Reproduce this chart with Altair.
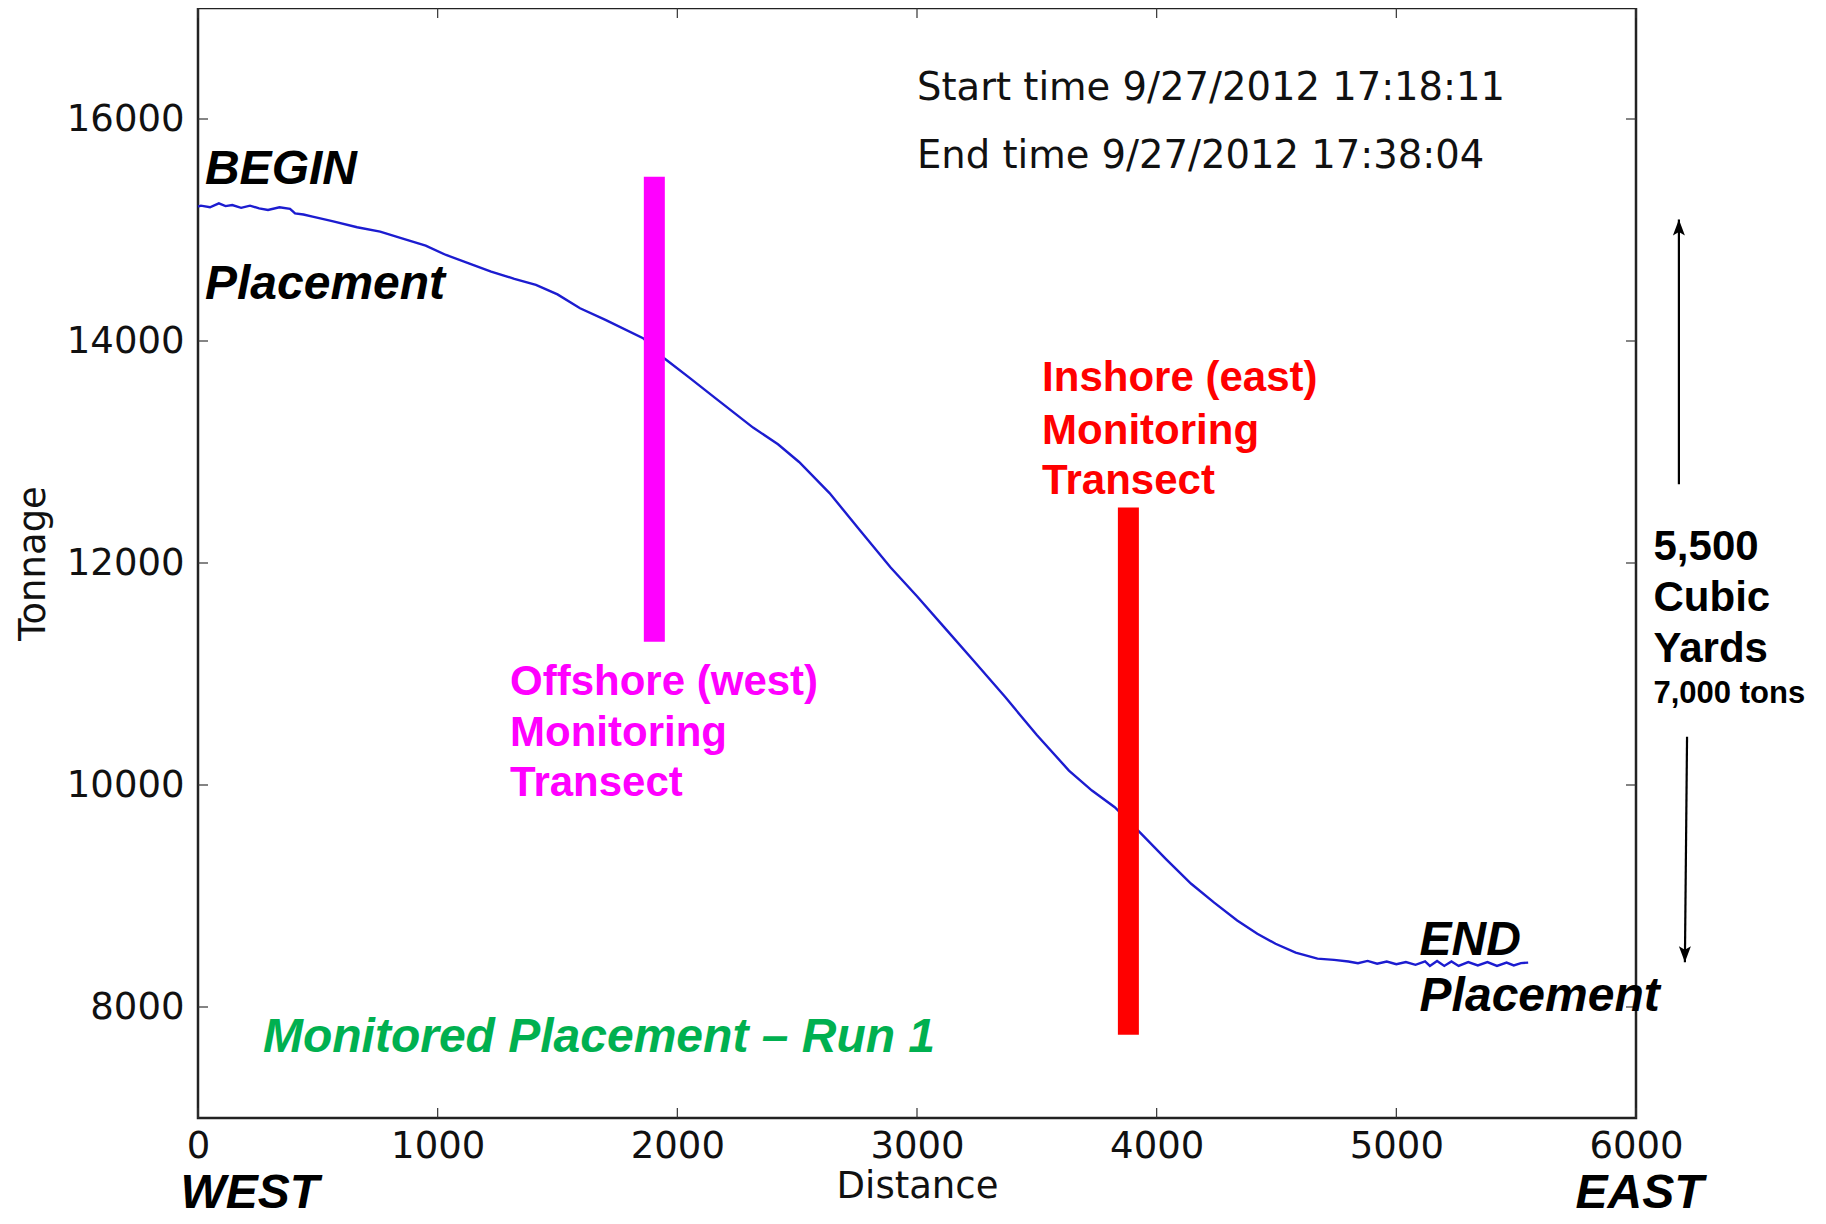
import altair as alt
import pandas as pd

# ---- data ----
distance = [0, 12, 50, 87, 115, 143, 180, 217, 255, 292, 340, 384, 405, 440, 478, 560, 664,
            760, 851, 950, 1035, 1130, 1223, 1320, 1410, 1500, 1594, 1700, 1857, 1948,
            2050, 2156, 2316, 2420, 2508, 2635, 2760, 2890, 3000, 3114, 3240, 3369, 3500, 3634,
            3730, 3825, 3929, 4040, 4144, 4240, 4336, 4420, 4496, 4580, 4671, 4740,
            4800, 4840, 4880, 4920, 4960, 5000, 5040, 5080, 5120, 5140, 5170, 5200, 5230,
            5260, 5300, 5340, 5380, 5420, 5460, 5490, 5520, 5550]
tonnage = [15210, 15219, 15205, 15240, 15215, 15225, 15200, 15219, 15195, 15180, 15205, 15190,
           15150, 15140, 15120, 15080, 15025, 14985, 14925, 14860, 14775, 14700, 14625, 14560,
           14505, 14420, 14295, 14190, 14025, 13840, 13670, 13490, 13220, 13070, 12910, 12630,
           12300, 11960, 11700, 11420, 11110, 10790, 10450, 10130, 9950, 9800, 9575, 9330,
           9110, 8940, 8780, 8660, 8570, 8490, 8436, 8425, 8410, 8395, 8415, 8390, 8410, 8385,
           8405, 8380, 8410, 8370, 8415, 8370, 8410, 8370, 8405, 8375, 8405, 8370, 8400,
           8375, 8395, 8400]

x_ticks = [0, 1000, 2000, 3000, 4000, 5000, 6000]
y_ticks = [8000, 10000, 12000, 14000, 16000]

# transects: x, y bottom, y top
transect_names = ["Offshore", "Inshore"]
transect_x = [1904, 3882]
transect_y1 = [11290, 7750]
transect_y2 = [15480, 12500]
transect_colors = ["#ff00ff", "#ff0000"]

W, H = 1438, 1110
x_scale = alt.Scale(domain=[0, 6000], nice=False, zero=False)
y_scale = alt.Scale(domain=[7000, 17000], nice=False, zero=False)

x_axis = alt.Axis(values=x_ticks, format="d", title="Distance", grid=False, ticks=False,
                  domain=False, labelFont="DejaVu Sans", labelFontSize=37, labelColor="#111",
                  labelPadding=10, labelFlush=False, labelOverlap=False,
                  titleFont="DejaVu Sans", titleFontSize=37, titleFontWeight="normal",
                  titleColor="#111", titlePadding=4)
y_axis = alt.Axis(values=y_ticks, format="d", title="Tonnage", grid=False, ticks=False,
                  domain=False, labelFont="DejaVu Sans", labelFontSize=37, labelColor="#111",
                  labelPadding=14, labelFlush=False, labelOverlap=False,
                  titleFont="DejaVu Sans", titleFontSize=37, titleFontWeight="normal",
                  titleColor="#111", titlePadding=14)


def X(f):
    return alt.X(f, type="quantitative", scale=x_scale, axis=x_axis)


def Y(f):
    return alt.Y(f, type="quantitative", scale=y_scale, axis=y_axis)


df = pd.DataFrame({"x": distance, "y": tonnage})
line = alt.Chart(df).mark_line(color="#1c1cd0", strokeWidth=2.4).encode(x=X("x"), y=Y("y"))

tdf = pd.DataFrame({"name": transect_names, "x": transect_x, "y": transect_y1,
                    "y2": transect_y2, "c": transect_colors})
bars = alt.Chart(tdf).mark_rule(strokeWidth=21).encode(
    x=X("x"), y=Y("y"), y2="y2", color=alt.Color("c:N", scale=None))

# inward ticks on all four sides
xt = pd.DataFrame({"x": x_ticks})
yt = pd.DataFrame({"y": y_ticks})
tick_style = dict(color="#333", strokeWidth=1.2)
t_bottom = alt.Chart(xt).mark_rule(**tick_style).encode(x=X("x"), y=alt.value(H), y2=alt.value(H - 10))
t_top = alt.Chart(xt).mark_rule(**tick_style).encode(x=X("x"), y=alt.value(0), y2=alt.value(10))
t_left = alt.Chart(yt).mark_rule(**tick_style).encode(y=Y("y"), x=alt.value(0), x2=alt.value(10))
t_right = alt.Chart(yt).mark_rule(**tick_style).encode(y=Y("y"), x=alt.value(W), x2=alt.value(W - 10))


def texts(xs, ys, labels, **style):
    d = pd.DataFrame({"x": xs, "y": ys, "t": labels})
    return alt.Chart(d).mark_text(align="left", baseline="alphabetic", **style).encode(
        x=X("x"), y=Y("y"), text="t:N")


times = texts([3000, 3000], [16170, 15560],
              ["Start time 9/27/2012 17:18:11", "End time 9/27/2012 17:38:04"],
              font="DejaVu Sans", fontSize=38.5, color="#111")
bi = dict(font="Liberation Sans", fontWeight="bold", fontStyle="italic", fontSize=48, color="black")
labels_bi = texts([29, 29, 5097, 5097, -73, 5748],
                  [15410, 14375, 8466, 7964, 6185, 6185],
                  ["BEGIN", "Placement", "END", "Placement", "WEST", "EAST"], **bi)
green = texts([271], [7598], ["Monitored Placement \u2013 Run 1"],
              font="Liberation Sans", fontWeight="bold", fontStyle="italic", fontSize=48,
              color="#00b050")
offshore = texts([1302, 1302, 1302], [10813, 10354, 9905],
                 ["Offshore (west)", "Monitoring", "Transect"],
                 font="Liberation Sans", fontWeight="bold", fontSize=42, color="#ff00ff")
inshore = texts([3522, 3522, 3522], [13547, 13075, 12624],
                ["Inshore (east)", "Monitoring", "Transect"],
                font="Liberation Sans", fontWeight="bold", fontSize=42, color="#ff0000")
yards = texts([6073, 6073, 6073], [12027, 11567, 11106],
              ["5,500", "Cubic", "Yards"],
              font="Liberation Sans", fontWeight="bold", fontSize=42, color="black")
tons = texts([6073], [10739], ["7,000 tons"],
             font="Liberation Sans", fontWeight="bold", fontSize=31, color="black")

# arrows
adf = pd.DataFrame({"x": [6179, 6213], "y": [12710, 10435], "x2": [6179, 6204], "y2": [15095, 8403]})
arrows = alt.Chart(adf).mark_rule(color="black", strokeWidth=2.2).encode(
    x=X("x"), y=Y("y"), x2="x2", y2="y2")
up_head = alt.Chart(pd.DataFrame({"x": [6179], "y": [15095]})).mark_point(
    shape="M0,0 L-0.6,1.6 L0,1.25 L0.6,1.6 Z", filled=True, color="black", size=400, opacity=1
).encode(x=X("x"), y=Y("y"))
down_head = alt.Chart(pd.DataFrame({"x": [6204], "y": [8403]})).mark_point(
    shape="M0,0 L-0.6,-1.6 L0,-1.25 L0.6,-1.6 Z", filled=True, color="black", size=400, opacity=1
).encode(x=X("x"), y=Y("y"))

chart = alt.layer(
    line, bars, t_bottom, t_top, t_left, t_right,
    times, labels_bi, green, offshore, inshore, yards, tons, arrows, up_head, down_head
).properties(
    width=W, height=H,
    background="white",
    autosize=alt.AutoSizeParams(type="none"),
    padding={"left": 190, "top": 0, "right": 182, "bottom": 98},
).configure_view(stroke="#222", strokeWidth=2.5)

chart.save("out.html", embed_options={"renderer": "svg", "actions": False})
